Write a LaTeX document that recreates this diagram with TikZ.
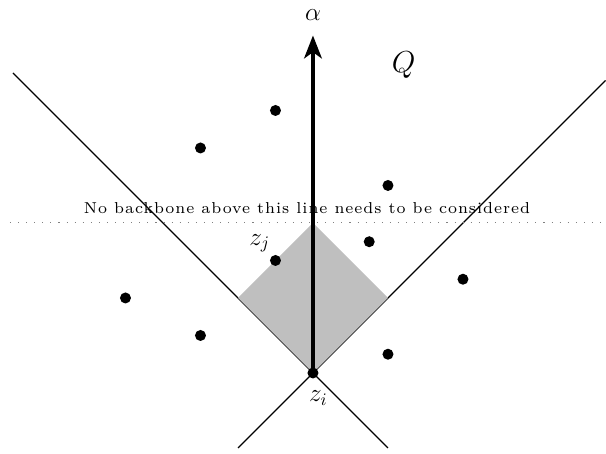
\documentclass[tikz,border=0pt]{standalone}
\usepackage{fontspec}
\newfontfamily\notefont{lmroman7-regular.otf}[LetterSpace=6]
\usetikzlibrary{arrows.meta}
\begin{document}
\begin{tikzpicture}[x=1.5cm,y=1.5cm,
    pt/.style={circle,fill=black,inner sep=0pt,minimum size=0.22cm},
    cone/.style={line width=0.7pt},
    axis/.style={line width=2.3pt,-{Stealth[length=13pt,width=10pt,inset=3.5pt]}}]
  \useasboundingbox (-4.173,-1.08) rectangle (3.907,4.973);

  % cone lines through z_i
  \coordinate (zi) at (0,0);
  \coordinate (ul) at (-4,4);
  \coordinate (ur) at (3.9,3.9);
  \coordinate (ll) at (-1,-1);
  \coordinate (lr) at (1,-1);
  \draw[cone] (ul) -- (lr);
  \draw[cone] (ll) -- (ur);

  % region to search
  \coordinate (dl) at (-1,1);
  \coordinate (dt) at (0,2);
  \coordinate (dr) at (1,1);
  \fill[black!25] (zi) -- (dl) -- (dt) -- (dr) -- cycle;

  % cut-off line
  \coordinate (cl) at (-4.04,2.01);
  \coordinate (cr) at (3.85,2.01);
  \draw[gray,line width=0.5pt,dash pattern=on 0.6pt off 4pt] (cl) -- (cr);
  \node[anchor=base,font=\notefont\fontsize{9}{11}\selectfont]
    (note) at (-0.08,2.12) {No backbone above this line needs to be considered};

  % alpha axis
  \coordinate (top) at (0,4.5);
  \draw[axis] (zi) -- (top);
  \node[above=5pt,font=\Large] (alpha) at (top) {$\alpha$};
  \node[font=\LARGE] (q) at (1.21,4.1) {$Q$};

  % points
  \node[pt] (p1) at (-0.5,3.5) {};
  \node[pt] (p2) at (-1.5,3) {};
  \node[pt] (p3) at (1,2.5) {};
  \node[pt] (p4) at (0.75,1.75) {};
  \node[pt] (p5) at (2,1.25) {};
  \node[pt] (p6) at (-2.5,1) {};
  \node[pt] (p7) at (-1.5,0.5) {};
  \node[pt] (p8) at (1,0.25) {};
  \node[pt] (zj) at (-0.5,1.5) {};
  \node[pt] (zidot) at (zi) {};
  \node[font=\Large] (zjlab) at (-0.71,1.73) {$z_j$};
  \node[font=\Large] (zilab) at (0.07,-0.33) {$z_i$};
\end{tikzpicture}
\end{document}
